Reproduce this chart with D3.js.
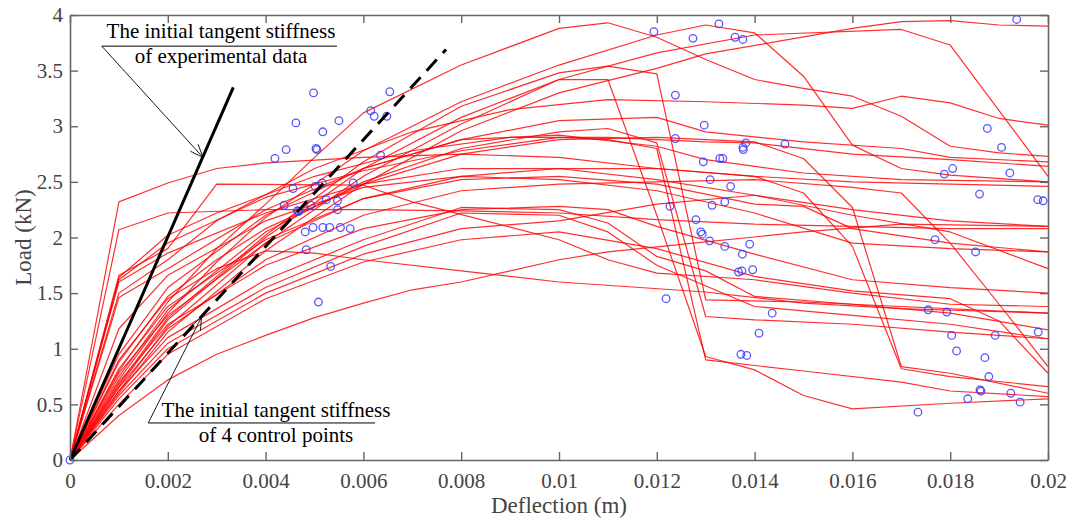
<!DOCTYPE html>
<html>
<head>
<meta charset="utf-8">
<script src="https://cdn.jsdelivr.net/npm/d3@7"></script>
<style>
  html, body { margin: 0; padding: 0; background: #fff; }
  svg { display: block; }
  text { font-family: "Liberation Serif", "Times New Roman", serif; }
</style>
</head>
<body>
<svg id="chart" width="1073" height="520"></svg>
<script>
// Load–deflection curves (deflection in m, load in kN), one polyline per specimen
const loadCurves = [
  [[0,0],[0.001,2.32],[0.002,2.49],[0.003,2.62],[0.004,2.67],[0.006,2.72],[0.008,2.75],[0.010,2.72],[0.012,2.62],[0.014,2.55],[0.016,2.50],[0.018,2.48],[0.020,2.46]],
  [[0,0],[0.001,2.07],[0.002,2.22],[0.004,2.25],[0.006,2.25],[0.008,2.24],[0.010,2.22],[0.012,2.16],[0.014,2.12],[0.016,2.10],[0.018,2.08],[0.020,2.08]],
  [[0,0],[0.001,1.66],[0.002,1.90],[0.003,2.48],[0.006,2.47],[0.007,2.32],[0.010,1.98],[0.011,1.80],[0.012,1.68],[0.014,1.62],[0.016,1.50],[0.018,1.40],[0.020,1.38]],
  [[0,0],[0.001,1.64],[0.002,2.02],[0.003,2.22],[0.005,2.55],[0.007,2.78],[0.009,2.90],[0.011,2.90],[0.013,2.86],[0.014,2.85],[0.016,2.75],[0.018,2.70],[0.020,2.64]],
  [[0,0],[0.001,1.62],[0.002,1.95],[0.004,2.36],[0.006,2.60],[0.008,2.78],[0.010,2.90],[0.011,2.88],[0.012,2.80],[0.013,0.90],[0.015,0.80],[0.017,0.70],[0.018,0.62],[0.020,0.57]],
  [[0,0],[0.001,1.60],[0.002,1.86],[0.004,2.22],[0.006,2.48],[0.008,2.62],[0.010,2.62],[0.012,2.52],[0.014,2.38],[0.016,2.25],[0.018,2.15],[0.020,2.10]],
  [[0,0],[0.001,1.50],[0.002,1.80],[0.003,2.15],[0.005,2.62],[0.007,2.95],[0.009,3.15],[0.011,3.24],[0.013,3.22],[0.015,3.19],[0.016,3.16],[0.017,3.27],[0.018,3.21],[0.019,3.07],[0.020,3.01]],
  [[0,0],[0.001,1.46],[0.002,1.72],[0.004,2.25],[0.006,2.62],[0.008,2.88],[0.010,3.05],[0.012,3.08],[0.013,2.95],[0.015,2.86],[0.017,2.80],[0.018,2.72],[0.020,2.68]],
  [[0,0],[0.001,1.18],[0.002,1.66],[0.004,2.15],[0.006,2.45],[0.008,2.55],[0.010,2.52],[0.012,2.42],[0.014,2.22],[0.016,1.95],[0.018,1.90],[0.020,1.87]],
  [[0,0],[0.001,0.88],[0.002,1.47],[0.003,1.80],[0.004,2.08],[0.006,2.48],[0.008,2.75],[0.010,2.88],[0.012,2.90],[0.013,2.88],[0.014,2.86],[0.015,2.71],[0.016,2.27],[0.017,0.84],[0.018,0.78],[0.020,0.60]],
  [[0,0],[0.001,0.80],[0.002,1.42],[0.003,1.90],[0.004,2.30],[0.005,2.72],[0.006,3.12],[0.008,3.55],[0.010,3.88],[0.011,3.93],[0.012,3.80],[0.013,3.60],[0.014,3.42],[0.015,3.34],[0.016,3.27],[0.017,3.09],[0.018,2.82],[0.019,2.76],[0.020,2.73]],
  [[0,0],[0.001,0.72],[0.002,1.32],[0.003,1.78],[0.004,2.18],[0.006,2.78],[0.008,3.22],[0.010,3.55],[0.012,3.82],[0.013,3.91],[0.014,3.84],[0.015,3.45],[0.016,2.83],[0.017,2.62],[0.018,2.56],[0.020,2.50]],
  [[0,0],[0.001,0.66],[0.002,1.26],[0.004,2.00],[0.006,2.62],[0.008,3.08],[0.010,3.42],[0.011,3.42],[0.012,2.20],[0.013,0.93],[0.014,0.81],[0.015,0.58],[0.016,0.46],[0.018,0.51],[0.020,0.55]],
  [[0,0],[0.001,0.60],[0.002,1.15],[0.004,1.88],[0.006,2.48],[0.008,2.96],[0.010,3.30],[0.012,3.52],[0.013,3.65],[0.016,3.88],[0.017,3.94],[0.018,3.95],[0.019,3.91],[0.020,3.90]],
  [[0,0],[0.001,0.62],[0.002,1.20],[0.004,1.95],[0.006,2.55],[0.008,3.02],[0.010,3.42],[0.012,3.66],[0.014,3.82],[0.017,3.87],[0.018,3.73],[0.020,2.55]],
  [[0,0],[0.001,0.68],[0.002,1.28],[0.004,2.02],[0.006,2.68],[0.008,3.18],[0.010,3.48],[0.011,3.54],[0.012,3.47],[0.013,1.44],[0.015,1.42],[0.017,1.38],[0.020,1.32]],
  [[0,0],[0.001,0.75],[0.002,1.35],[0.004,2.05],[0.006,2.50],[0.008,2.80],[0.010,2.95],[0.011,2.98],[0.012,2.85],[0.013,1.29],[0.014,1.26],[0.016,1.22],[0.018,1.15],[0.020,1.09]],
  [[0,0],[0.001,0.78],[0.002,1.30],[0.004,1.95],[0.006,2.35],[0.008,2.55],[0.010,2.62],[0.012,2.62],[0.014,2.55],[0.015,2.40],[0.016,1.92],[0.017,0.82],[0.018,0.75],[0.020,0.66]],
  [[0,0],[0.001,0.70],[0.002,1.22],[0.004,1.75],[0.006,2.08],[0.008,2.25],[0.010,2.28],[0.011,2.25],[0.012,2.10],[0.014,1.85],[0.016,1.62],[0.018,1.55],[0.020,1.50]],
  [[0,0],[0.001,0.62],[0.002,1.10],[0.004,1.62],[0.006,1.98],[0.008,2.27],[0.010,2.25],[0.011,2.13],[0.012,1.83],[0.013,1.70],[0.014,1.47],[0.016,1.40],[0.018,1.32],[0.020,1.17]],
  [[0,0],[0.001,0.58],[0.002,1.05],[0.004,1.55],[0.006,1.92],[0.008,2.22],[0.010,2.20],[0.011,2.05],[0.012,1.75],[0.014,1.38],[0.016,1.30],[0.018,1.22],[0.020,1.09]],
  [[0,0],[0.001,0.55],[0.002,1.00],[0.004,1.50],[0.006,1.85],[0.008,2.08],[0.010,2.15],[0.012,2.30],[0.014,2.38],[0.016,2.20],[0.018,2.05],[0.020,1.72]],
  [[0,0],[0.001,0.40],[0.002,0.72],[0.003,0.95],[0.004,1.12],[0.005,1.28],[0.006,1.41],[0.007,1.53],[0.008,1.60],[0.010,1.80],[0.011,1.87],[0.013,1.96],[0.015,2.05],[0.017,2.12],[0.020,2.10]],
  [[0,0],[0.001,0.90],[0.002,1.45],[0.003,1.72],[0.004,1.88],[0.005,1.86],[0.006,1.80],[0.008,1.70],[0.010,1.60],[0.013,1.51],[0.015,1.41],[0.017,1.36],[0.020,1.32]],
  [[0,0],[0.001,0.95],[0.002,1.55],[0.004,2.20],[0.006,2.62],[0.008,2.88],[0.010,2.92],[0.012,2.82],[0.013,2.70],[0.015,2.58],[0.017,2.52],[0.020,2.50]],
  [[0,0],[0.001,0.82],[0.002,1.38],[0.004,1.98],[0.006,2.35],[0.008,2.52],[0.010,2.55],[0.012,2.48],[0.014,2.30],[0.015,2.28],[0.016,2.08],[0.018,1.95],[0.020,1.87]],
  [[0,0],[0.001,0.65],[0.002,1.18],[0.004,1.80],[0.006,2.20],[0.008,2.42],[0.010,2.48],[0.012,2.50],[0.014,2.52],[0.016,2.45],[0.017,2.40],[0.018,1.95],[0.019,1.40],[0.020,0.84]],
  [[0,0],[0.001,0.50],[0.002,0.95],[0.004,1.45],[0.006,1.78],[0.008,1.98],[0.010,2.05],[0.012,1.90],[0.014,1.65],[0.016,1.52],[0.018,1.45],[0.019,1.25],[0.020,0.78]]
];

// Experimental points: deflection (m) and load (kN)
const pointDeflection = [
  0, 0.00419, 0.00442, 0.00462, 0.00498, 0.00517, 0.00503, 0.00505, 0.00550, 0.00456, 0.00438,
  0.00465, 0.00468, 0.00492, 0.00501, 0.00516, 0.00524, 0.00547, 0.00547, 0.00579, 0.00481,
  0.00497, 0.00517, 0.00531, 0.00553, 0.00573, 0.00483, 0.00533, 0.00508, 0.00615, 0.00622,
  0.00648, 0.00654, 0.00635,
  0.01194, 0.01327, 0.01274, 0.01360, 0.01376, 0.01238, 0.01297, 0.01238, 0.01382, 0.01376,
  0.01377, 0.01462, 0.01295, 0.01329, 0.01335, 0.01309, 0.01351, 0.01313, 0.01339, 0.01227,
  0.01280, 0.01290, 0.01293, 0.01308, 0.01339, 0.01390, 0.01375, 0.01367, 0.01374, 0.01396,
  0.01436, 0.01409, 0.01372, 0.01384, 0.01219,
  0.01936, 0.01876, 0.01905, 0.01788, 0.01805, 0.01922, 0.01860, 0.01979, 0.01990, 0.01769,
  0.01852, 0.01755, 0.01793, 0.01803, 0.01892, 0.01980, 0.01813, 0.01871, 0.01879, 0.01861,
  0.01863, 0.01836, 0.01924, 0.01943, 0.01734
];
const pointLoad = [
  0, 2.71, 2.79, 3.03, 3.30, 2.95, 2.80, 2.79, 3.05, 2.44, 2.29,
  2.24, 2.235, 2.29, 2.46, 2.49, 2.34, 2.33, 2.25, 2.49, 2.05,
  2.09, 2.09, 2.09, 2.09, 2.08, 1.89, 1.74, 1.42, 3.14, 3.09,
  3.09, 3.31, 2.74,
  3.85, 3.92, 3.79, 3.80, 3.78, 3.28, 3.01, 2.89, 2.85, 2.81,
  2.79, 2.84, 2.68, 2.71, 2.71, 2.52, 2.46, 2.29, 2.32, 2.28,
  2.16, 2.05, 2.03, 1.97, 1.92, 1.94, 1.85, 1.69, 1.70, 1.71,
  1.32, 1.14, 0.95, 0.94, 1.45,
  3.96, 2.98, 2.81, 2.57, 2.62, 2.58, 2.39, 2.34, 2.33, 1.98,
  1.87, 1.35, 1.33, 1.12, 1.12, 1.15, 0.98, 0.92, 0.75, 0.63,
  0.62, 0.55, 0.60, 0.52, 0.43
];

// Initial tangent stiffness lines
const stiffnessExperimental = [[0, 0], [0.00334, 3.35]];
const stiffnessControlPoints = [[0, 0], [0.00769, 3.69]];

const xTicks = [0, 0.002, 0.004, 0.006, 0.008, 0.01, 0.012, 0.014, 0.016, 0.018, 0.02];
const yTicks = [0, 0.5, 1, 1.5, 2, 2.5, 3, 3.5, 4];
const xTickLabels = ["0", "0.002", "0.004", "0.006", "0.008", "0.01", "0.012", "0.014", "0.016", "0.018", "0.02"];
const yTickLabels = ["0", "0.5", "1", "1.5", "2", "2.5", "3", "3.5", "4"];

const svg = d3.select("#chart");
const plotLeft = 70, plotRight = 1048, plotTop = 15, plotBottom = 460;

const x = d3.scaleLinear().domain([0, 0.02]).range([plotLeft, plotRight]);
const y = d3.scaleLinear().domain([0, 4]).range([plotBottom, plotTop]);

const line = d3.line().x(d => x(d[0])).y(d => y(d[1]));

// curves
svg.append("g")
  .selectAll("path")
  .data(loadCurves)
  .join("path")
  .attr("d", line)
  .attr("fill", "none")
  .attr("stroke", "#ff0000")
  .attr("stroke-opacity", 0.82)
  .attr("stroke-width", 1.2)
  .attr("stroke-linejoin", "round");

// experimental points
svg.append("g")
  .selectAll("circle")
  .data(pointDeflection.map((d, i) => [d, pointLoad[i]]))
  .join("circle")
  .attr("cx", d => x(d[0]))
  .attr("cy", d => y(d[1]))
  .attr("r", 3.8)
  .attr("fill", "none")
  .attr("stroke", "#3a3aff")
  .attr("stroke-opacity", 0.85)
  .attr("stroke-width", 1.3);

// stiffness lines
svg.append("path")
  .attr("d", line(stiffnessExperimental))
  .attr("stroke", "#000").attr("stroke-width", 3).attr("fill", "none");
svg.append("path")
  .attr("d", line(stiffnessControlPoints))
  .attr("stroke", "#000").attr("stroke-width", 3).attr("fill", "none")
  .attr("stroke-dasharray", "15,9");

// axes (box with inward ticks)
const axisColor = "#666";
const xAxisB = d3.axisBottom(x).tickValues(xTicks).tickSizeInner(-8).tickSizeOuter(0).tickFormat((d, i) => xTickLabels[i]).tickPadding(13);
const xAxisT = d3.axisTop(x).tickValues(xTicks).tickSizeInner(-8).tickSizeOuter(0).tickFormat("");
const yAxisL = d3.axisLeft(y).tickValues(yTicks).tickSizeInner(-8).tickSizeOuter(0).tickFormat((d, i) => yTickLabels[i]).tickPadding(7);
const yAxisR = d3.axisRight(y).tickValues(yTicks).tickSizeInner(-8).tickSizeOuter(0).tickFormat("");

function styleAxis(g) {
  g.select(".domain").attr("stroke", axisColor).attr("stroke-width", 1.6);
  g.selectAll(".tick line").attr("stroke", axisColor).attr("stroke-width", 1.4);
  g.selectAll(".tick text").attr("fill", "#444").attr("font-size", 21)
    .attr("font-family", "Liberation Serif, Times New Roman, serif");
}
svg.append("g").attr("transform", `translate(0,${plotBottom})`).call(xAxisB).call(styleAxis);
svg.append("g").attr("transform", `translate(0,${plotTop})`).call(xAxisT).call(styleAxis);
svg.append("g").attr("transform", `translate(${plotLeft},0)`).call(yAxisL).call(styleAxis);
svg.append("g").attr("transform", `translate(${plotRight},0)`).call(yAxisR).call(styleAxis);

// axis titles
svg.append("text")
  .attr("x", (plotLeft + plotRight) / 2).attr("y", 513)
  .attr("text-anchor", "middle").attr("font-size", 23).attr("fill", "#444")
  .text("Deflection (m)");
svg.append("text")
  .attr("transform", `translate(31,${(plotTop + plotBottom) / 2}) rotate(-90)`)
  .attr("text-anchor", "middle").attr("font-size", 23).attr("fill", "#444")
  .text("Load (kN)");

// annotations
function annotate(lines, cx, baseline, lineGap, underline, tip) {
  const g = svg.append("g");
  lines.forEach((t, i) => {
    g.append("text").attr("x", cx).attr("y", baseline + i * lineGap)
      .attr("text-anchor", "middle").attr("font-size", 21).attr("fill", "#000").text(t);
  });
  const ux0 = x(underline[0]), ux1 = x(underline[1]), uy = y(underline[2]);
  g.append("line").attr("x1", ux0).attr("x2", ux1).attr("y1", uy).attr("y2", uy)
    .attr("stroke", "#000").attr("stroke-width", 1);
  const tx = x(tip[0]), ty = y(tip[1]);
  g.append("line").attr("x1", ux0).attr("y1", uy).attr("x2", tx).attr("y2", ty)
    .attr("stroke", "#000").attr("stroke-width", 0.9);
  // open arrow head
  const ang = Math.atan2(ty - uy, tx - ux0);
  const len = 14, spread = 0.38;
  [ang + Math.PI - spread, ang + Math.PI + spread].forEach(a => {
    g.append("line").attr("x1", tx).attr("y1", ty)
      .attr("x2", tx + len * Math.cos(a)).attr("y2", ty + len * Math.sin(a))
      .attr("stroke", "#000").attr("stroke-width", 0.9);
  });
}
annotate(["The initial tangent stiffness", "of experimental data"], 221, 38, 25,
  [0.00065, 0.00546, 3.72], [0.00272, 2.72]);
annotate(["The initial tangent stiffness", "of 4 control points"], 276, 417, 25,
  [0.0016, 0.00624, 0.333], [0.00269, 1.285]);
</script>
</body>
</html>
